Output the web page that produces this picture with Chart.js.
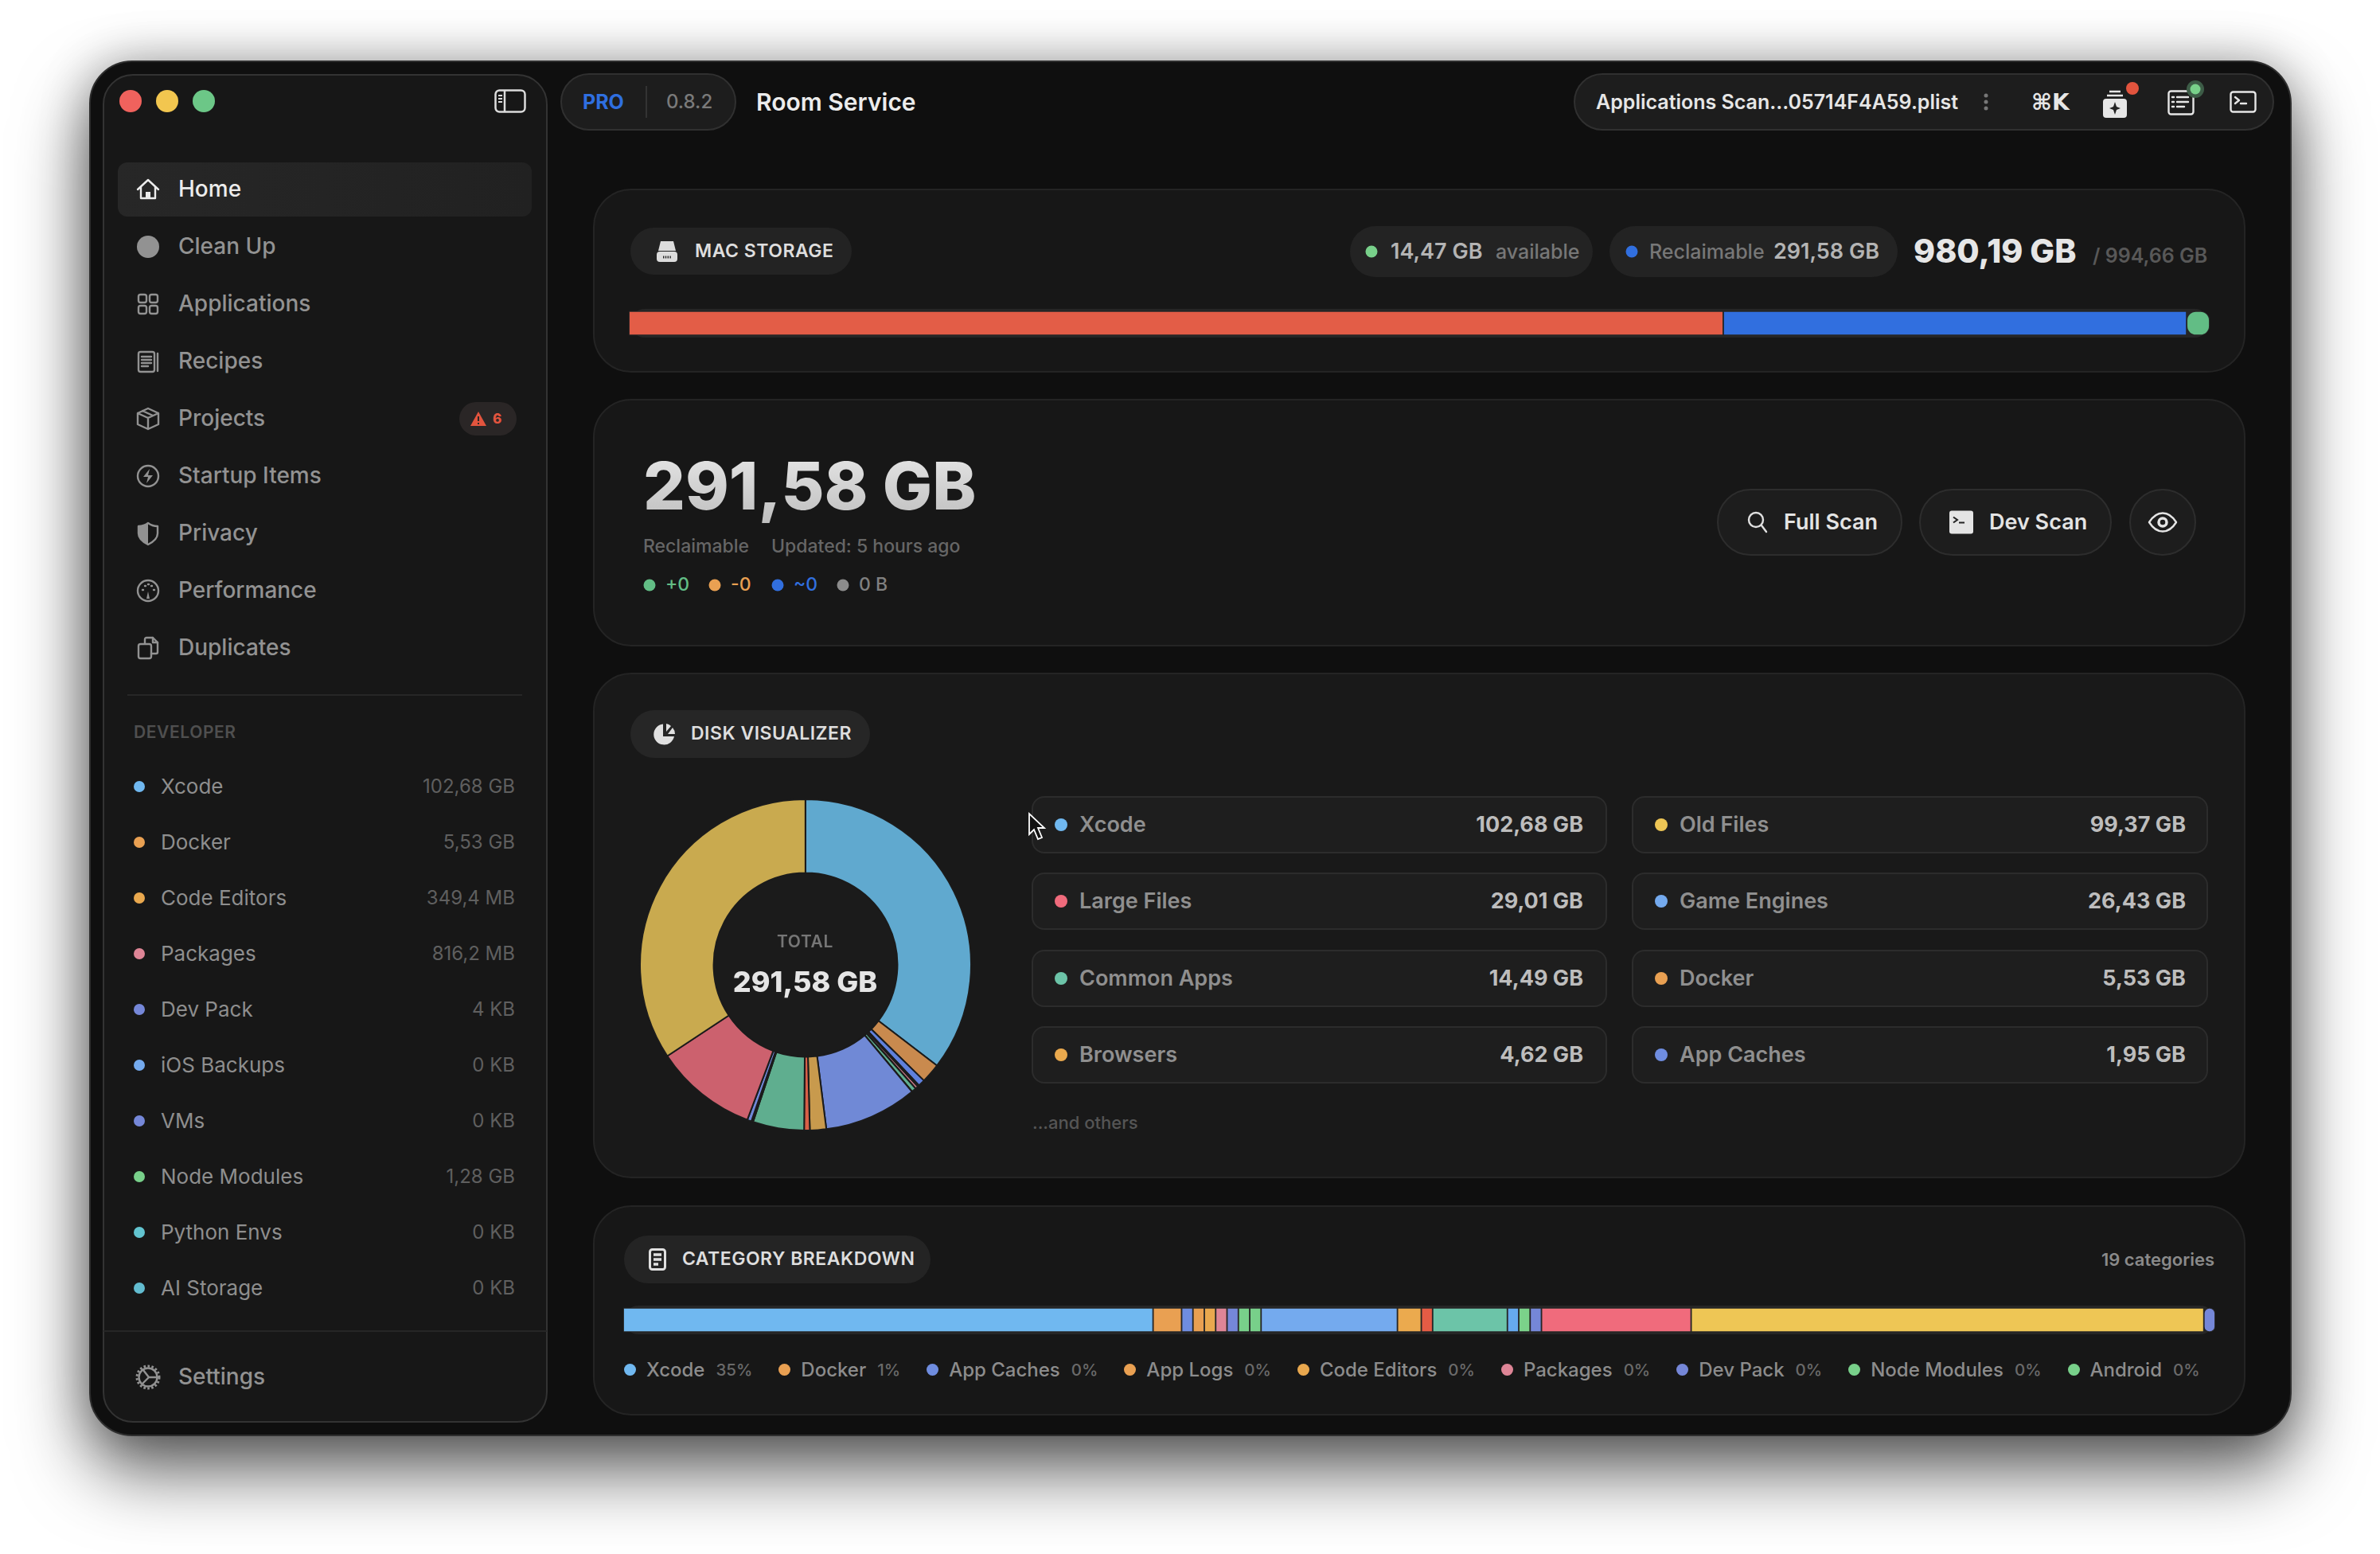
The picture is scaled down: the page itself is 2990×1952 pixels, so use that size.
<!DOCTYPE html>
<html>
<head>
<meta charset="utf-8">
<title>Room Service</title>
<script src="https://cdn.jsdelivr.net/npm/chart.js@4"></script>
<style>
  html, body { margin: 0; width: 2990px; height: 1952px; background: #fff; overflow: hidden; font-family: Inter, sans-serif; }
  #page { position: relative; width: 2990px; height: 1952px; }
  .box { position: absolute; box-sizing: border-box; }
  .txt { position: absolute; white-space: nowrap; transform: translateY(-50%); line-height: 1.2; }
  .dot { position: absolute; border-radius: 50%; transform: translate(-50%, -50%); }
  svg.ico { position: absolute; transform: translate(-50%, -50%); overflow: visible; }
  canvas { position: absolute; }
  #legend { position: absolute; left: 784px; top: 1700px; width: 1998px; height: 40px; overflow: hidden; display: flex; align-items: center; white-space: nowrap; font-weight: 500; }
  #legend .item { display: flex; align-items: center; margin-right: 33px; flex: none; }
  #legend i { width: 15px; height: 15px; border-radius: 50%; margin-right: 13px; flex: none; }
  #legend b { font-weight: 500; font-size: 24px; color: #8c8c8c; }
  #legend em { font-style: normal; font-size: 20.5px; color: #6a6a6a; margin-left: 14px; }
</style>
</head>
<body>
<div id="page">
  <div class="box" style="left:112px;top:76px;width:2767px;height:1728px;border-radius:54px;background:#0f0f0f;border:2px solid #2e2e2e;box-shadow:0 44px 90px rgba(0,0,0,.62),0 0 60px rgba(0,0,0,.28)"></div>
  <div class="box" style="left:129px;top:93px;width:559px;height:1694px;border-radius:38px;background:#171717;border:2px solid #333"></div>
  <div class="box" style="left:148px;top:204px;width:520px;height:68px;border-radius:12px;background:linear-gradient(90deg,#272727,#212121)"></div>
  <div class="box" style="left:160px;top:872px;width:496px;height:2px;background:#262626"></div>
  <div class="box" style="left:130px;top:1671px;width:557px;height:2px;background:#262626"></div>

  <div class="box" style="left:704px;top:92px;width:221px;height:72px;border-radius:36px;background:#1d1d1d;border:2px solid #303030"></div>
  <div class="box" style="left:811px;top:108px;width:2px;height:40px;background:#333"></div>
  <div class="box" style="left:1977px;top:92px;width:880px;height:72px;border-radius:36px;background:#1d1d1d;border:2px solid #303030"></div>

  <div class="box" style="left:745px;top:237px;width:2076px;height:231px;border-radius:48px;background:#171717;border:2px solid #242424"></div>
  <div class="box" style="left:745px;top:501px;width:2076px;height:311px;border-radius:48px;background:#171717;border:2px solid #242424"></div>
  <div class="box" style="left:745px;top:845px;width:2076px;height:635px;border-radius:48px;background:#191919;border:2px solid #242424"></div>
  <div class="box" style="left:745px;top:1514px;width:2076px;height:264px;border-radius:48px;background:#171717;border:2px solid #242424"></div>

  <div class="box" style="left:792px;top:286px;width:278px;height:59px;border-radius:30px;background:#232323"></div>
  <div class="box" style="left:1696px;top:284px;width:305px;height:64px;border-radius:32px;background:#232323"></div>
  <div class="box" style="left:2022px;top:284px;width:362px;height:64px;border-radius:32px;background:#232323"></div>
  <div class="box" style="left:792px;top:388px;width:1983px;height:36px;border-radius:18px;background:#262626"></div>

  <div class="box" style="left:2157px;top:614px;width:233px;height:84px;border-radius:42px;background:#1d1d1d;border:2px solid #2d2d2d"></div>
  <div class="box" style="left:2411px;top:614px;width:242px;height:84px;border-radius:42px;background:#1d1d1d;border:2px solid #2d2d2d"></div>
  <div class="box" style="left:2675px;top:614px;width:84px;height:84px;border-radius:50%;background:#1d1d1d;border:2px solid #2d2d2d"></div>

  <div class="box" style="left:792px;top:892px;width:301px;height:60px;border-radius:30px;background:#262626"></div>
  <div class="box" style="left:784px;top:1552px;width:385px;height:60px;border-radius:30px;background:#242424"></div>
  <div class="box" style="left:784px;top:1640px;width:1998px;height:36px;border-radius:18px;background:#262626"></div>

  <div class="box" style="left:895px;top:1095px;width:233px;height:233px;border-radius:50%;background:#1b1b1b"></div>

  <canvas id="storageBar" style="left:790px;top:388px" width="1986" height="36"></canvas>
  <canvas id="diskDonut" style="left:802px;top:1002px" width="420" height="420"></canvas>
  <canvas id="breakdownBar" style="left:783px;top:1640px" width="2000" height="36"></canvas>
  <div id="legend"></div>
</div>

<script>
// Data
const storageLabels = ['Used', 'Reclaimable', 'Available'];
const storageValues = [688.61, 291.58, 14.47];
const storageColors = ['#e35d47', '#316fdf', '#62bd85'];

const categories = ['Xcode', 'Docker', 'App Caches', 'App Logs', 'Code Editors', 'Packages', 'Dev Pack', 'Node Modules', 'Android', 'Game Engines', 'Browsers', 'Trash', 'Common Apps', 'iOS Backups', 'Python Envs', 'VMs', 'Large Files', 'Old Files', 'AI Storage'];
const categoryGb = [102.68, 5.53, 1.95, 0.1, 0.35, 0.82, 0.01, 1.28, 0.02, 26.43, 4.62, 1.6, 14.49, 0.2, 0.3, 1.2, 29.01, 99.37, 0.02];
const categoryPercents = ['35%', '1%', '0%', '0%', '0%', '0%', '0%', '0%', '0%'];
const barColors = ['#70b8f0', '#e9a052', '#6f8de0', '#e9a052', '#e9a84e', '#de8596', '#7587d8', '#78d08a', '#78d08a', '#74aaee', '#ebaa4e', '#e55c45', '#6cc4a8', '#66aaee', '#7bd28a', '#7587d8', '#f06b7c', '#eec655', '#7587d8'];
const donutColors = ['#60a9cf', '#c98a4e', '#5f80dc', '#c98a4e', '#c99a4c', '#cc7a88', '#7088d8', '#5fae8f', '#5fae8f', '#7089d6', '#c89a4d', '#d85f47', '#5fae8f', '#5f9fe0', '#5fae8f', '#7088d8', '#cc616e', '#c9aa4f', '#d08a4e'];
const minSegmentGb = 2.2; // the app keeps tiny categories visible

const navItems = ['Home', 'Clean Up', 'Applications', 'Recipes', 'Projects', 'Startup Items', 'Privacy', 'Performance', 'Duplicates'];
const devItems = ['Xcode', 'Docker', 'Code Editors', 'Packages', 'Dev Pack', 'iOS Backups', 'VMs', 'Node Modules', 'Python Envs', 'AI Storage'];
const devSizes = ['102,68 GB', '5,53 GB', '349,4 MB', '816,2 MB', '4 KB', '0 KB', '0 KB', '1,28 GB', '0 KB', '0 KB'];
const devColors = ['#70b8f0', '#e9a052', '#e9a84e', '#de8596', '#7587d8', '#74aaee', '#7587d8', '#78d08a', '#62c4d0', '#62bcd0'];
const topLabels = ['Xcode', 'Old Files', 'Large Files', 'Game Engines', 'Common Apps', 'Docker', 'Browsers', 'App Caches'];
const topValues = ['102,68 GB', '99,37 GB', '29,01 GB', '26,43 GB', '14,49 GB', '5,53 GB', '4,62 GB', '1,95 GB'];
const topColors = ['#70b8f0', '#eec655', '#f06b7c', '#74aaee', '#6cc4a8', '#e9a052', '#ebaa4e', '#6f8de0'];

const page = document.getElementById('page');

function text(x, y, str, size, weight, color, extra) {
  const el = document.createElement('div');
  el.className = 'txt';
  el.textContent = str;
  el.style.cssText = `left:${x}px;top:${y}px;font-size:${size}px;font-weight:${weight};color:${color};` + (extra || '');
  page.appendChild(el);
  return el;
}
function textRight(x, y, str, size, weight, color) {
  return text(0, y, str, size, weight, color, `left:auto;right:${2990 - x}px;`);
}
function dot(x, y, d, color) {
  const el = document.createElement('div');
  el.className = 'dot';
  el.style.cssText = `left:${x}px;top:${y}px;width:${d}px;height:${d}px;background:${color}`;
  page.appendChild(el);
}
function icon(x, y, w, h, vb, body, color) {
  const wrap = document.createElementNS('http://www.w3.org/2000/svg', 'svg');
  wrap.setAttribute('class', 'ico');
  wrap.setAttribute('width', w);
  wrap.setAttribute('height', h);
  wrap.setAttribute('viewBox', vb);
  wrap.style.left = x + 'px';
  wrap.style.top = y + 'px';
  wrap.style.color = color;
  wrap.innerHTML = body;
  page.appendChild(wrap);
}

// traffic lights + sidebar toggle
dot(164, 127, 28, '#f0625d');
dot(210, 127, 28, '#f2c64f');
dot(256, 127, 28, '#6cc787');
icon(641, 127, 40, 30, '0 0 40 30', '<rect x="1.5" y="1.5" width="37" height="27" rx="5" fill="none" stroke="currentColor" stroke-width="2.5"/><path d="M13 2v26" stroke="currentColor" stroke-width="2.5"/><path d="M5 8h5M5 12h5M5 16h5" stroke="currentColor" stroke-width="2"/>', '#dcdcdc');

// sidebar nav
const S = 'fill="none" stroke="currentColor" stroke-width="2.4" stroke-linejoin="round" stroke-linecap="round"';
const navIcons = [
  `<path d="M2 15 15 3l13 12M6 12v14h18V12" ${S}/><path d="M12 26v-8h6v8" fill="currentColor"/>`,
  '<ellipse cx="15" cy="15" rx="14" ry="14" fill="currentColor"/>',
  `<rect x="3" y="3" width="10" height="10" rx="2.5" ${S}/><rect x="17" y="3" width="10" height="10" rx="2.5" ${S}/><rect x="3" y="17" width="10" height="10" rx="2.5" ${S}/><rect x="17" y="17" width="10" height="10" rx="2.5" ${S}/>`,
  `<rect x="3" y="3" width="20" height="25" rx="2.5" ${S}/><path d="M7 9h12M7 13h12M7 17h12M7 21h8M27 5v22" ${S}/>`,
  `<path d="M15 2 28 8v14l-13 6-13-6V8zM2 8l13 6 13-6M15 14v14M8 5l13 6" ${S}/>`,
  `<circle cx="15" cy="15" r="13" ${S}/><path d="M17 6 9 16h6l-2 8 8-10h-6z" fill="currentColor"/>`,
  `<path d="M15 2c4 3 8 4 12 4v9c0 7-6 11-12 14C9 26 3 22 3 15V6c4 0 8-1 12-4z" ${S}/><path d="M15 2c-4 3-8 4-12 4v9c0 7 6 11 12 14z" fill="currentColor"/>`,
  `<circle cx="15" cy="15" r="13" ${S}/><path d="M15 16l-2 9h4z" fill="currentColor"/><path d="M8 14h1M11 9h1M15 7h1M19 9h1M22 14h1" ${S}/>`,
  `<path d="M11 9V4a2 2 0 0 1 2-2h8l6 6v12a2 2 0 0 1-2 2h-6" ${S}/><rect x="3" y="10" width="16" height="18" rx="2.5" ${S}/><path d="M21 2v6h6" ${S}/>`
];
navItems.forEach((name, i) => {
  const y = 238 + i * 72;
  const col = i === 0 ? '#ececec' : '#929292';
  icon(186, y, 30, 30, '0 0 30 30', navIcons[i], col);
  text(224, y, name, 28, 500, col);
});
// Projects warning badge
const badge = document.createElement('div');
badge.className = 'box';
badge.style.cssText = 'left:577px;top:505px;width:72px;height:42px;border-radius:21px;background:#2a2626';
page.appendChild(badge);
icon(601, 526, 20, 18, '0 0 20 18', '<path d="M10 0 20 18H0z" fill="#e2543e"/><path d="M10 6v6M10 14v2" stroke="#2a2626" stroke-width="2"/>', '#e2543e');
text(619, 526, '6', 17, 800, '#e2543e');

text(168, 920, 'DEVELOPER', 21, 600, '#4f4f4f', 'letter-spacing:.6px;');
devItems.forEach((name, i) => {
  const y = 988 + i * 70;
  dot(175, y, 14, devColors[i]);
  text(202, y, name, 26, 400, '#8e8e8e');
  textRight(647, y, devSizes[i], 24, 400, '#5f5f5f');
});
icon(186, 1730, 30, 30, '0 0 30 30', `<circle cx="15" cy="15" r="11.5" ${S}/><circle cx="15" cy="15" r="14" fill="none" stroke="currentColor" stroke-width="3" stroke-dasharray="2.6 2.4"/><path d="M9 6l7 9-8 8M16 15h11" ${S}/>`, '#929292');
text(224, 1730, 'Settings', 28, 500, '#929292');

// top bar
text(732, 128, 'PRO', 25, 700, '#2f6fe0');
text(837, 128, '0.8.2', 24, 500, '#7a7a7a');
text(950, 128, 'Room Service', 30, 600, '#ececec');
text(2005, 128, 'Applications Scan...05714F4A59.plist', 25, 600, '#e6e6e6');
dot(2495, 120, 5, '#777'); dot(2495, 128, 5, '#777'); dot(2495, 136, 5, '#777');
text(2552, 129, '⌘K', 28, 600, '#e6e6e6', "font-family:'DejaVu Sans',Inter;");
icon(2657, 130, 32, 36, '0 0 32 36', '<rect x="1" y="12" width="30" height="24" rx="4" fill="#e6e6e6"/><path d="M6 8h20M9 3h14" stroke="#e6e6e6" stroke-width="2.5"/><path d="M16 16l2 6 5 2-5 2-2 6-2-6-5-2 5-2z" fill="#222"/>', '#e6e6e6');
dot(2679, 111, 16, '#e2543e');
icon(2740, 129, 34, 32, '0 0 34 32', `<rect x="1.5" y="1.5" width="31" height="29" rx="3" ${S}/><path d="M6 9h2M12 9h14M6 15h2M12 15h14M6 21h2M12 21h9" ${S}/>`, '#e6e6e6');
dot(2758, 112, 22, '#3d5c47');
dot(2758, 112, 13, '#78d08a');
icon(2818, 128, 34, 28, '0 0 34 28', `<rect x="1.5" y="1.5" width="31" height="25" rx="3" ${S}/><path d="M7 8l5 4-5 4M14 16h7" ${S}/>`, '#e6e6e6');

// mac storage card
icon(838, 316, 28, 30, '0 0 28 30', '<path d="M6 2h16l3 12H3z" fill="#dcdcdc"/><rect x="1" y="15" width="26" height="13" rx="4" fill="#dcdcdc"/><path d="M9 22h10" stroke="#232323" stroke-width="3" stroke-dasharray="1.4 1.4"/>', '#dcdcdc');
text(873, 316, 'MAC STORAGE', 23, 600, '#dedede', 'letter-spacing:.5px;');
dot(1723, 316, 15, '#78d08a');
text(1747, 316, '14,47 GB', 27, 600, '#b4b4b4');
text(1879, 316, 'available', 25, 500, '#777');
dot(2050, 316, 15, '#316fdf');
text(2072, 316, 'Reclaimable', 25, 500, '#777');
text(2228, 316, '291,58 GB', 27, 600, '#b4b4b4');
text(2404, 316, '980,19 GB', 41, 800, '#e6e6e6');
text(2629, 321, '/ 994,66 GB', 25, 600, '#585858');

// reclaimable card
text(808, 611, '291,58 GB', 83, 800, 'transparent', 'background:linear-gradient(180deg,#e8e8e8,#bdbdbd);-webkit-background-clip:text;background-clip:text;');
text(808, 687, 'Reclaimable', 23, 500, '#666');
text(969, 687, 'Updated: 5 hours ago', 23, 500, '#666');
dot(816, 735, 15, '#62bd85'); text(836, 735, '+0', 23, 500, '#62bd85');
dot(898, 735, 15, '#e9a052'); text(918, 735, '-0', 23, 500, '#e9a052');
dot(977, 735, 15, '#316fdf'); text(997, 735, '~0', 23, 500, '#316fdf');
dot(1059, 735, 15, '#8c8c8c'); text(1079, 735, '0 B', 23, 500, '#808080');

icon(2208, 656, 26, 28, '0 0 26 28', `<circle cx="11" cy="11" r="9" ${S} stroke-width="3"/><path d="M18 18l6 8" ${S} stroke-width="3"/>`, '#e0e0e0');
text(2241, 656, 'Full Scan', 27, 600, '#e4e4e4');
icon(2464, 656, 30, 29, '0 0 30 29', '<rect width="30" height="29" rx="3" fill="#e4e4e4"/><path d="M5 8l5 3.5-5 3.5M12 15h7" fill="none" stroke="#222" stroke-width="2"/>', '#e4e4e4');
text(2499, 656, 'Dev Scan', 27, 600, '#e4e4e4');
icon(2717, 656, 36, 26, '0 0 36 26', `<path d="M1 13C6 5 12 1.5 18 1.5S30 5 35 13c-5 8-11 11.500-17 11.500S6 21 1 13z" ${S} stroke-width="3"/><circle cx="18" cy="13" r="5" fill="none" stroke="currentColor" stroke-width="3.500"/>`, '#e4e4e4');

// disk visualizer card
icon(835, 922, 28, 28, '0 0 28 28', '<path d="M12 1.500A13 13 0 1 0 26 17H12z" fill="#e0e0e0"/><path d="M16 1a12 12 0 0 1 6 3l-6 7z" fill="#e0e0e0"/><path d="M24 6a12 12 0 0 1 3 8h-9z" fill="#e0e0e0"/>', '#e0e0e0');
text(868, 922, 'DISK VISUALIZER', 23, 600, '#dedede', 'letter-spacing:.5px;');
text(0, 1183, 'TOTAL', 21, 600, '#767676', 'left:895px;width:233px;text-align:center;letter-spacing:.6px;');
text(0, 1234, '291,58 GB', 36, 800, '#e5e5e5', 'left:895px;width:233px;text-align:center;');

topLabels.forEach((name, i) => {
  const col = i % 2;
  const row = Math.floor(i / 2);
  const x = col ? 2050 : 1296;
  const y = 1000 + row * 96.300;
  const el = document.createElement('div');
  el.className = 'box';
  el.style.cssText = `left:${x}px;top:${y}px;width:${col ? 724 : 723}px;height:72px;border-radius:16px;background:#1e1e1e;border:2px solid #2c2c2c`;
  page.appendChild(el);
  dot(x + 37, y + 36, 16, topColors[i]);
  text(x + 60, y + 36, name, 27, 600, '#8f8f8f');
  textRight(x + (col ? 696 : 693), y + 36, topValues[i], 27, 700, '#bdbdbd');
});
text(1297, 1410, '...and others', 22, 500, '#555');

icon(1303, 1039, 22, 36, '0 0 22 36', '<path d="M1 1v26l6-6 5 12 5-2-5-12h8z" fill="#111" stroke="#fff" stroke-width="1.800"/>', '#fff');

// category breakdown card
icon(826, 1582, 22, 28, '0 0 22 28', '<rect x="1.500" y="1.500" width="19" height="25" rx="3" fill="none" stroke="#e0e0e0" stroke-width="3"/><path d="M6 8h10M6 14h10M6 20h6" stroke="#e0e0e0" stroke-width="3.500"/>', '#e0e0e0');
text(857, 1582, 'CATEGORY BREAKDOWN', 23, 600, '#dedede', 'letter-spacing:.5px;');
textRight(2782, 1582, '19 categories', 22, 600, '#8a8a8a');

const legend = document.getElementById('legend');
categoryPercents.concat(['0%']).forEach((pct, i) => {
  const item = document.createElement('div');
  item.className = 'item';
  item.innerHTML = `<i style="background:${barColors[i]}"></i><b>${categories[i]}</b><em>${pct}</em>`;
  legend.appendChild(item);
});

// Charts
function stackedBar(id, labels, values, colors, track, radius) {
  new Chart(document.getElementById(id), {
    type: 'bar',
    data: {
      labels: [''],
      datasets: labels.map((label, i) => ({
        label: label,
        data: [values[i]],
        backgroundColor: colors[i],
        borderColor: track,
        borderWidth: 1.25,
        borderSkipped: false,
        borderRadius: radius,
        barThickness: 30.5
      }))
    },
    options: {
      indexAxis: 'y',
      responsive: false,
      animation: false,
      layout: { padding: 0 },
      plugins: { legend: { display: false }, tooltip: { enabled: false } },
      scales: {
        x: { stacked: true, display: false, min: 0, max: values.reduce((a, b) => a + b, 0) },
        y: { stacked: true, display: false }
      }
    }
  });
}

stackedBar('storageBar', storageLabels, storageValues, storageColors, '#262626', 12);
stackedBar('breakdownBar', categories, categoryGb.map(v => Math.max(v, minSegmentGb)), barColors, '#262626', 12);

new Chart(document.getElementById('diskDonut'), {
  type: 'doughnut',
  data: {
    labels: categories,
    datasets: [{
      data: categoryGb,
      backgroundColor: donutColors,
      borderColor: '#1b1b1b',
      borderWidth: 2
    }]
  },
  options: {
    responsive: false,
    animation: false,
    radius: 208,
    cutout: 116,
    layout: { padding: 0 },
    plugins: { legend: { display: false }, tooltip: { enabled: false } }
  }
});
</script>
</body>
</html>
